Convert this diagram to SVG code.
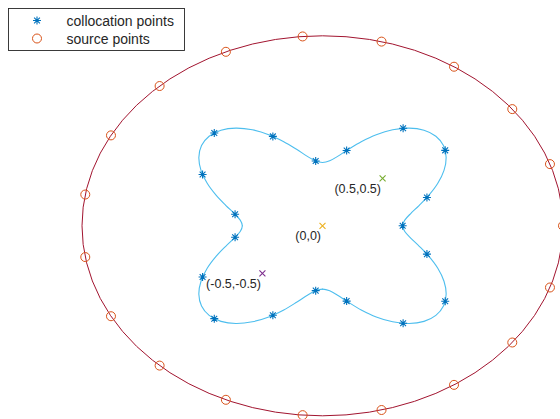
<svg xmlns="http://www.w3.org/2000/svg" xmlns:xlink="http://www.w3.org/1999/xlink" width="560" height="419" viewBox="0 0 560 419">
<style>
.ell{fill:none;stroke:#A2142F;stroke-width:1}
.curve{fill:none;stroke:#4DBEEE;stroke-width:1.1;stroke-linecap:round}
.src{fill:none;stroke:#D95319;stroke-width:1}
.star{fill:none;stroke:#0072BD;stroke-width:1.1}
.lbl{font-family:"Liberation Sans",Arial,Helvetica,sans-serif;font-size:12.5px;fill:#262626;text-anchor:end}
.leg{font-family:"Liberation Sans",Arial,Helvetica,sans-serif;font-size:14px;fill:#262626}
</style>
<defs>
<path id="star" class="star" d="M-4,0H4M0,-4V4M-2.9,-2.9L2.9,2.9M-2.9,2.9L2.9,-2.9"/>
<circle id="src" class="src" r="4.5"/>
<path id="q1" class="curve" d="M402.67,225.8C402.67,223.90 403.44,222.16 404.78,220.11C406.12,218.06 408.27,215.99 410.69,213.52C413.11,211.05 416.25,208.37 419.29,205.31C422.34,202.26 425.88,198.85 428.96,195.19C432.05,191.53 435.29,187.47 437.80,183.33C440.31,179.20 442.61,174.70 444.00,170.38C445.39,166.06 446.24,161.53 446.15,157.40C446.06,153.27 445.18,149.14 443.47,145.61C441.76,142.08 439.12,138.79 435.87,136.23C432.63,133.67 428.47,131.58 424.00,130.23C419.54,128.88 414.31,128.18 409.08,128.11C403.86,128.04 398.12,128.71 392.65,129.81C387.18,130.91 381.50,132.73 376.26,134.71C371.03,136.69 365.88,139.26 361.24,141.70C356.60,144.14 352.31,146.93 348.44,149.33C344.58,151.74 341.17,154.22 338.05,156.13C334.93,158.04 332.29,159.75 329.70,160.80C327.11,161.86 324.90,162.46 322.50,162.46"/>
</defs>
<rect width="560" height="419" fill="#ffffff"/>

<g id="source-boundary">
<ellipse class="ell" cx="322.5" cy="225.8" rx="240.5" ry="190"/>
</g>

<g id="collocation-boundary">
<use xlink:href="#q1" href="#q1"/>
<use xlink:href="#q1" href="#q1" transform="matrix(-1 0 0 1 645 0)"/>
<use xlink:href="#q1" href="#q1" transform="matrix(1 0 0 -1 0 451.6)"/>
<use xlink:href="#q1" href="#q1" transform="matrix(-1 0 0 -1 645 451.6)"/>
</g>

<g id="source-points">
<use href="#src" x="563" y="225.8"/>
<use href="#src" x="549.96" y="164.11"/>
<use href="#src" x="512.28" y="109.10"/>
<use href="#src" x="454.03" y="66.73"/>
<use href="#src" x="381.54" y="41.61"/>
<use href="#src" x="302.63" y="36.45"/>
<use href="#src" x="225.89" y="51.80"/>
<use href="#src" x="159.61" y="86.02"/>
<use href="#src" x="110.98" y="135.38"/>
<use href="#src" x="85.27" y="194.53"/>
<use href="#src" x="85.27" y="257.07"/>
<use href="#src" x="110.98" y="316.22"/>
<use href="#src" x="159.61" y="365.58"/>
<use href="#src" x="225.89" y="399.80"/>
<use href="#src" x="302.63" y="415.15"/>
<use href="#src" x="381.54" y="410.00"/>
<use href="#src" x="454.03" y="384.87"/>
<use href="#src" x="512.28" y="342.50"/>
<use href="#src" x="549.96" y="287.49"/>
</g>

<g id="collocation-points">
<use href="#star" x="402.67" y="225.8"/>
<use href="#star" x="426.93" y="197.48"/>
<use href="#star" x="445.21" y="150.34"/>
<use href="#star" x="403.12" y="128.31"/>
<use href="#star" x="346.63" y="150.49"/>
<use href="#star" x="315.69" y="160.97"/>
<use href="#star" x="272.86" y="136.41"/>
<use href="#star" x="214.28" y="132.93"/>
<use href="#star" x="202.58" y="174.54"/>
<use href="#star" x="235.08" y="214.28"/>
<use href="#star" x="235.08" y="237.32"/>
<use href="#star" x="202.58" y="277.06"/>
<use href="#star" x="214.28" y="318.67"/>
<use href="#star" x="272.86" y="315.19"/>
<use href="#star" x="315.69" y="290.63"/>
<use href="#star" x="346.63" y="301.11"/>
<use href="#star" x="403.12" y="323.29"/>
<use href="#star" x="445.21" y="301.26"/>
<use href="#star" x="426.93" y="254.12"/>
</g>

<g id="point-origin">
<path d="M319.5,222.8L325.5,228.8M319.5,228.8L325.5,222.8" stroke="#EDB120" stroke-width="1.1"/>
<text class="lbl" x="321" y="240">(0,0)</text>
</g>
<g id="point-pos">
<path d="M379.6,175.3L385.6,181.3M379.6,181.3L385.6,175.3" stroke="#77AC30" stroke-width="1.1"/>
<text class="lbl" x="381" y="192.5">(0.5,0.5)</text>
</g>
<g id="point-neg">
<path d="M259.4,270.3L265.4,276.3M259.4,276.3L265.4,270.3" stroke="#7E2F8E" stroke-width="1.1"/>
<text class="lbl" x="261" y="287.5">(-0.5,-0.5)</text>
</g>

<g id="legend">
<rect x="8.5" y="8.5" width="176" height="42" fill="#ffffff" stroke="#262626" stroke-width="0.9"/>
<use href="#star" x="37" y="20.5"/>
<text class="leg" x="66.5" y="25.5">collocation points</text>
<use href="#src" x="37" y="38.5"/>
<text class="leg" x="66.5" y="43.5">source points</text>
</g>
</svg>
